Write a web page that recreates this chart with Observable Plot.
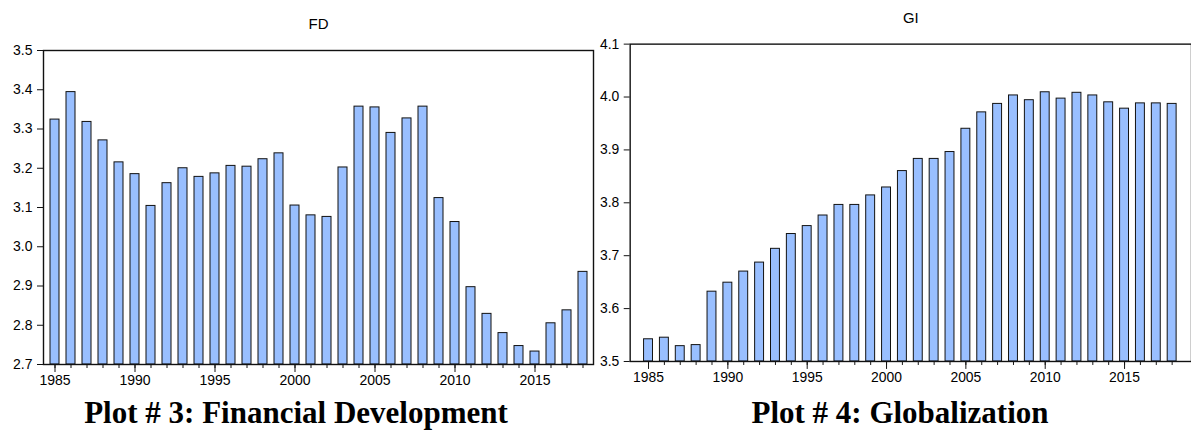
<!DOCTYPE html>
<html>
<head>
<meta charset="utf-8">
<script src="https://cdn.jsdelivr.net/npm/d3@7"></script>
<script src="https://cdn.jsdelivr.net/npm/@observablehq/plot@0.6"></script>
<style>
  html, body { margin: 0; padding: 0; background: #fff; }
  #wrap { position: relative; width: 1191px; height: 435px; overflow: hidden; background: #fff; }
  .panel { position: absolute; top: 0; }
  .caption { position: absolute; top: 397px; font-family: "Liberation Serif", "Times New Roman", serif; font-weight: bold; font-size: 31px; line-height: 31px; text-align: center; color: #000; white-space: nowrap; }
</style>
</head>
<body>
<div id="wrap">
  <div id="left" class="panel" style="left:0px"></div>
  <div id="right" class="panel" style="left:590px"></div>
  <div class="caption" style="left:46px;width:500px">Plot # 3: Financial Development</div>
  <div class="caption" style="left:650px;width:500px">Plot # 4: Globalization</div>
</div>
<script>
const years = [1985,1986,1987,1988,1989,1990,1991,1992,1993,1994,1995,1996,1997,1998,1999,2000,2001,2002,2003,2004,2005,2006,2007,2008,2009,2010,2011,2012,2013,2014,2015,2016,2017,2018];

const fdValues = [3.324,3.394,3.318,3.271,3.215,3.185,3.104,3.162,3.200,3.178,3.187,3.206,3.204,3.223,3.238,3.105,3.080,3.076,3.202,3.357,3.355,3.290,3.327,3.357,3.124,3.063,2.897,2.829,2.780,2.747,2.733,2.805,2.838,2.936];

const giValues = [3.542,3.545,3.529,3.531,3.632,3.649,3.670,3.687,3.713,3.741,3.756,3.776,3.796,3.796,3.814,3.829,3.860,3.883,3.883,3.896,3.940,3.971,3.987,4.003,3.994,4.009,3.997,4.008,4.003,3.990,3.978,3.988,3.988,3.987];

const fdDomain = [2.7, 3.5];
const fdTicks = [2.7,2.8,2.9,3.0,3.1,3.2,3.3,3.4,3.5];
const giDomain = [3.5, 4.1];
const giTicks = [3.5,3.6,3.7,3.8,3.9,4.0,4.1];
const yearLabels = [1985,1990,1995,2000,2005,2010,2015];

const fdTitle = "FD";
const giTitle = "GI";

const barFill = "#99BFFF";
const FONT = "'Liberation Sans', Arial, sans-serif";

function panel({values, domain, ticks, title, width, marginTop, marginLeft, marginRight, insetLeft, insetRight}) {
  const data = years.map((yr, i) => ({year: yr, value: values[i]}));
  return Plot.plot({
    width, height: 395,
    marginTop, marginBottom: 31, marginLeft, marginRight,
    style: {fontFamily: FONT, fontSize: "14px", color: "#000", background: "transparent", overflow: "visible"},
    x: {type: "band", domain: years, paddingInner: 0.42, paddingOuter: 0.21, insetLeft, insetRight, label: null},
    y: {domain, label: null},
    marks: [
      Plot.barY(data, {x: "year", y1: domain[0], y2: "value", fill: barFill, stroke: "#111", strokeWidth: 1}),
      Plot.frame({stroke: "#111", strokeWidth: 1.4}),
      Plot.axisY({ticks, tickFormat: d3.format(".1f"), tickSize: 6, tickPadding: 5, label: null, stroke: "#111", fontSize: 14, fontFamily: FONT}),
      Plot.axisX({ticks: years, tickSize: 4, tickFormat: () => "", label: null, stroke: "#111"}),
      Plot.axisX({ticks: yearLabels, tickSize: 8, tickPadding: 3, tickFormat: d => String(d), label: null, stroke: "#111", fontSize: 14, fontFamily: FONT}),
      Plot.text([title], {frameAnchor: "top", dy: -32, text: d => d, fontSize: 15, fontFamily: FONT, fill: "#000"})
    ]
  });
}

document.getElementById("left").append(panel({
  values: fdValues, domain: fdDomain, ticks: fdTicks, title: fdTitle,
  width: 597, marginTop: 50, marginLeft: 43, marginRight: 4, insetLeft: 4, insetRight: 2
}));

document.getElementById("right").append(panel({
  values: giValues, domain: giDomain, ticks: giTicks, title: giTitle,
  width: 606, marginTop: 44, marginLeft: 40, marginRight: 0, insetLeft: 3.8, insetRight: 4.3
}));
</script>
</body>
</html>
